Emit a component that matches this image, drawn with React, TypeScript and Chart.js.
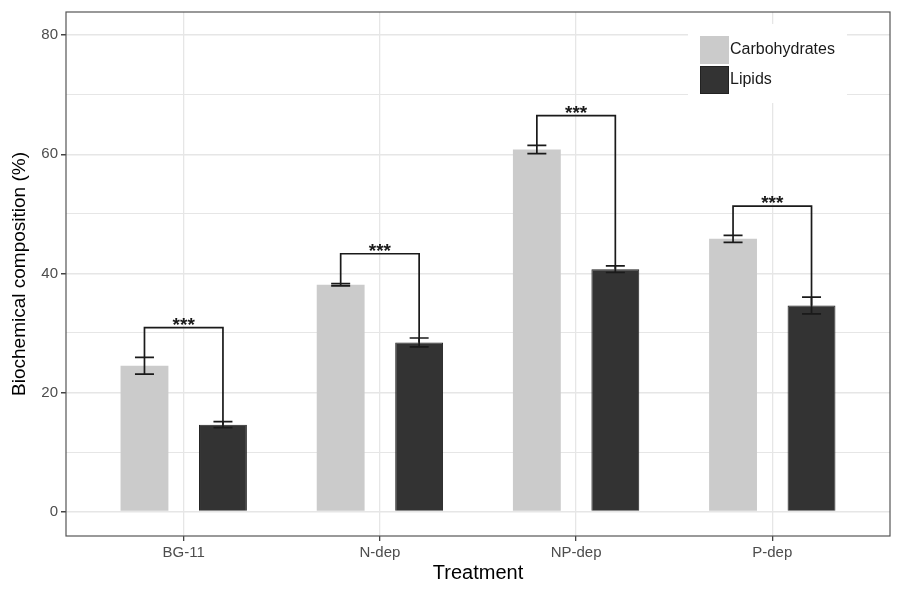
import React, { useEffect, useRef } from "react";
import { Chart, registerables } from "chart.js";

Chart.register(...registerables);

const categories = ["BG-11", "N-dep", "NP-dep", "P-dep"];
const seriesNames = ["Carbohydrates", "Lipids"];
const carbohydrates = [24.5, 38.1, 60.8, 45.8];
const carbErr = [1.4, 0.2, 0.7, 0.6];
const lipids = [14.6, 28.4, 40.7, 34.6];
const lipidErr = [0.5, 0.75, 0.55, 1.4];
const bracketY = [30.9, 43.3, 66.5, 51.3];
const signif = ["***", "***", "***", "***"];
const yTicks = [0, 10, 20, 30, 40, 50, 60, 70, 80];
const yLabelTicks = [0, 20, 40, 60, 80];

const CARB_COLOR = "#cbcbcb";
const LIPID_COLOR = "#333333";
const GRID = "#e6e6e6";
const FONT = "'Liberation Sans', Arial, sans-serif";

const overlayPlugin = {
  id: "overlay",
  afterDatasetsDraw(chart: any) {
    const { ctx, chartArea } = chart;
    const y = chart.scales.y;
    const m0 = chart.getDatasetMeta(0).data;
    const m1 = chart.getDatasetMeta(1).data;
    ctx.save();
    ctx.strokeStyle = "#1a1a1a";
    ctx.lineWidth = 1.7;
    const cap = 9.5;
    const errs = [carbErr, lipidErr];
    const vals = [carbohydrates, lipids];
    [m0, m1].forEach((meta: any[], d) => {
      meta.forEach((bar: any, i: number) => {
        const v = vals[d][i];
        const e = errs[d][i];
        const yt = y.getPixelForValue(v + e);
        const yb = y.getPixelForValue(v - e);
        ctx.beginPath();
        ctx.moveTo(bar.x, yt);
        ctx.lineTo(bar.x, yb);
        ctx.moveTo(bar.x - cap, yt);
        ctx.lineTo(bar.x + cap, yt);
        ctx.moveTo(bar.x - cap, yb);
        ctx.lineTo(bar.x + cap, yb);
        ctx.stroke();
      });
    });
    // brackets
    categories.forEach((_, i) => {
      const x1 = m0[i].x;
      const x2 = m1[i].x;
      const by = y.getPixelForValue(bracketY[i]);
      const y1 = y.getPixelForValue(carbohydrates[i] + carbErr[i]);
      const y2 = y.getPixelForValue(lipids[i]);
      ctx.beginPath();
      ctx.moveTo(x1, y1);
      ctx.lineTo(x1, by);
      ctx.lineTo(x2, by);
      ctx.lineTo(x2, y2);
      ctx.stroke();
      ctx.fillStyle = "#1a1a1a";
      ctx.font = `bold 19px ${FONT}`;
      ctx.textAlign = "center";
      ctx.textBaseline = "alphabetic";
      ctx.fillText(signif[i], (x1 + x2) / 2, by + 3);
    });
    // legend
    const lx = 688, ly = 24, lw = 159, lh = 79;
    ctx.fillStyle = "#ffffff";
    ctx.fillRect(lx, ly, lw, lh);
    const keys = [CARB_COLOR, LIPID_COLOR];
    keys.forEach((c, k) => {
      const ky = 36 + k * 30;
      ctx.fillStyle = c;
      ctx.fillRect(700, ky, 29, 28);
      if (k === 1) {
        ctx.strokeStyle = "#222222";
        ctx.lineWidth = 1;
        ctx.strokeRect(700.5, ky + 0.5, 28, 27);
      }
      ctx.fillStyle = "#1a1a1a";
      ctx.font = `16px ${FONT}`;
      ctx.textAlign = "left";
      ctx.textBaseline = "middle";
      ctx.fillText(seriesNames[k], 730, ky + 14);
    });
    // panel border
    ctx.strokeStyle = "#555555";
    ctx.lineWidth = 1.2;
    ctx.strokeRect(chartArea.left, chartArea.top, chartArea.right - chartArea.left, chartArea.bottom - chartArea.top);
    ctx.restore();
  },
};

export default function App() {
  const ref = useRef<HTMLCanvasElement>(null);
  useEffect(() => {
    document.body.style.margin = "0";
    const chart = new Chart(ref.current as HTMLCanvasElement, {
      type: "bar",
      data: {
        datasets: [
          {
            label: seriesNames[0],
            data: carbohydrates.map((v, i) => ({ x: i + 1, y: v })),
            backgroundColor: CARB_COLOR,
            borderWidth: 0,
          },
          {
            label: seriesNames[1],
            data: lipids.map((v, i) => ({ x: i + 1, y: v })),
            backgroundColor: LIPID_COLOR,
            borderColor: "#222222",
            borderWidth: 1,
          },
        ],
      },
      options: {
        animation: false,
        responsive: false,
        maintainAspectRatio: false,
        devicePixelRatio: 1,
        layout: { padding: { left: 0, top: 12, right: 14, bottom: 0 } },
        datasets: { bar: { categoryPercentage: 0.8, barPercentage: 0.61 } },
        plugins: { legend: { display: false }, tooltip: { enabled: false } },
        scales: {
          x: {
            type: "linear",
            min: 0.4,
            max: 4.6,
            offset: false,
            afterBuildTicks: (s: any) => {
              s.ticks = categories.map((_, i) => ({ value: i + 1 }));
            },
            afterFit: (s: any) => {
              s.height = 60;
            },
            grid: { offset: false, color: GRID, lineWidth: 1.3, tickLength: 5, tickColor: "#444444" },
            border: { display: false },
            ticks: {
              callback: (v: any) => categories[Math.round(v) - 1],
              color: "#4d4d4d",
              font: { family: FONT, size: 15 },
              padding: 3,
              maxRotation: 0,
            },
            title: {
              display: true,
              text: "Treatment",
              color: "#000000",
              font: { family: FONT, size: 20 },
              padding: { top: 0, bottom: 11 },
            },
          },
          y: {
            type: "linear",
            min: -4.1,
            max: 83.9,
            afterBuildTicks: (s: any) => {
              s.ticks = yTicks.map((v) => ({ value: v }));
            },
            afterFit: (s: any) => {
              s.width = 66;
            },
            grid: {
              color: GRID,
              lineWidth: (c: any) => (yLabelTicks.includes(c.tick?.value) ? 1.5 : 1),
              tickLength: 5,
              tickColor: (c: any) => (yLabelTicks.includes(c.tick?.value) ? "#444444" : "rgba(0,0,0,0)"),
            },
            border: { display: false },
            ticks: {
              callback: (v: any) => (yLabelTicks.includes(v) ? String(v) : ""),
              color: "#4d4d4d",
              font: { family: FONT, size: 15 },
              padding: 3,
            },
            title: {
              display: true,
              text: "Biochemical composition (%)",
              color: "#000000",
              font: { family: FONT, size: 19 },
              padding: { top: 8, bottom: 0 },
            },
          },
        },
      },
      plugins: [overlayPlugin],
    } as any);
    return () => chart.destroy();
  }, []);
  return (
    <div style={{ width: 904, height: 596, background: "#ffffff" }}>
      <canvas ref={ref} width={904} height={596} style={{ width: 904, height: 596 }} />
    </div>
  );
}
